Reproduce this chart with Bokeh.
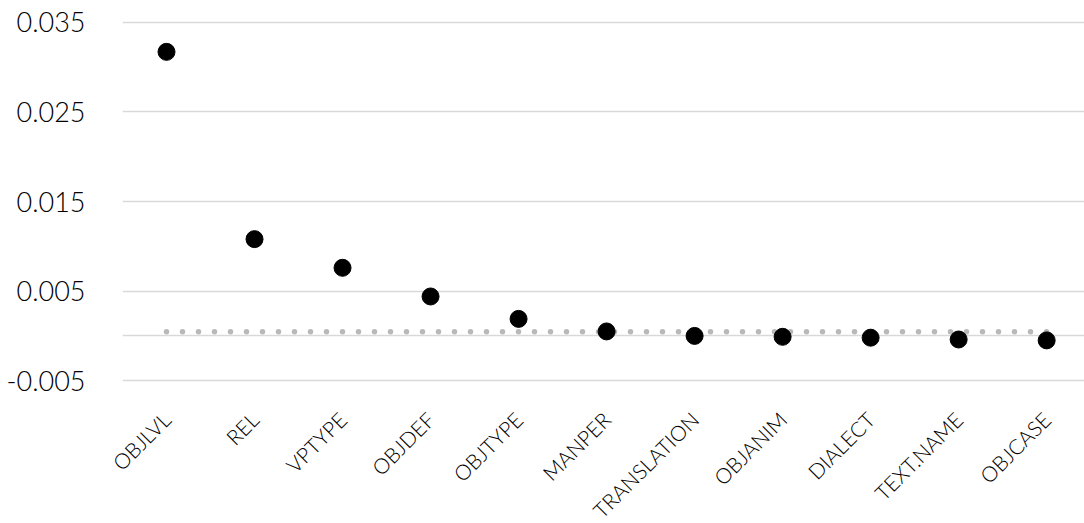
import math
from bokeh.plotting import figure
from bokeh.models import Range1d, FixedTicker, PrintfTickFormatter, ColumnDataSource
from bokeh.embed import file_html
from bokeh.resources import INLINE

# ---- data ----
categories = ["ObjLvl", "Rel", "VPType", "ObjDef", "ObjType", "ManPer",
              "Translation", "ObjAnim", "Dialect", "Text.name", "ObjCase"]
values = [0.0317, 0.0108, 0.0076, 0.0044, 0.0019, 0.0005,
          0.0000, -0.0001, -0.0002, -0.0004, -0.0005]
threshold = 0.00045
y_ticks = [-0.005, 0.005, 0.015, 0.025, 0.035]
grid_ticks = [-0.005, 0.0, 0.005, 0.015, 0.025, 0.035]

FONT = "Lato Light"
xs = list(range(len(categories)))

p = figure(width=1084, height=523, output_backend="svg", toolbar_location=None,
           x_range=Range1d(-0.5, 10.43), y_range=Range1d(-0.0052, 0.0352),
           frame_width=962, frame_height=362,
           min_border_left=122, min_border_right=0, min_border_top=20,
           min_border_bottom=141)
p.outline_line_color = None
p.background_fill_color = "white"
p.border_fill_color = "white"

# grid
p.xgrid.visible = False
p.ygrid.ticker = FixedTicker(ticks=grid_ticks)
p.ygrid.grid_line_color = "#d9d9d9"
p.ygrid.grid_line_width = 1.5

# y axis
p.yaxis.ticker = FixedTicker(ticks=y_ticks)
p.yaxis.formatter = PrintfTickFormatter(format="%.3f")
p.yaxis.axis_line_color = None
p.yaxis.major_tick_line_color = None
p.yaxis.minor_tick_line_color = None
p.yaxis.major_label_standoff = 31
p.yaxis.major_label_text_font = FONT
p.yaxis.major_label_text_font_size = "27px"
p.yaxis.major_label_text_color = "#000000"

# x axis
p.xaxis.ticker = FixedTicker(ticks=xs)
p.xaxis.major_label_overrides = {i: c.upper() for i, c in zip(xs, categories)}
p.xaxis.major_label_orientation = math.pi / 4
p.xaxis.axis_line_color = None
p.xaxis.major_tick_line_color = None
p.xaxis.minor_tick_line_color = None
p.xaxis.major_label_standoff = 27
p.xaxis.major_label_text_font = FONT
p.xaxis.major_label_text_font_size = "21px"
p.xaxis.major_label_text_color = "#000000"

# threshold dotted line
p.line(x=[xs[0], xs[-1]], y=[threshold, threshold], line_color="#b8b8b8",
       line_width=5.5, line_dash="0 16", line_cap="round")

# points
src = ColumnDataSource(dict(x=xs, y=values))
p.scatter(x="x", y="y", source=src, size=17, marker="circle",
          fill_color="black", line_color="black")

open("out.html", "w").write(file_html(p, INLINE))
